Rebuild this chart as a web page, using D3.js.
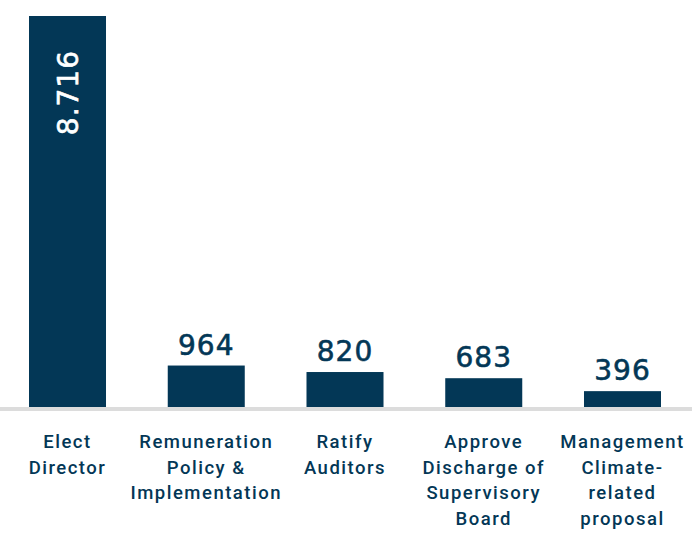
<!DOCTYPE html>
<html>
<head>
<meta charset="utf-8">
<script src="https://cdn.jsdelivr.net/npm/d3@7"></script>
<style>
  body { margin: 0; background: #fff; }
  svg { display: block; }
</style>
</head>
<body>
<div id="chart"></div>
<script>
// Chart values
const categories = [
    ["Elect", "Director"],
    ["Remuneration", "Policy &", "Implementation"],
    ["Ratify", "Auditors"],
    ["Approve", "Discharge of", "Supervisory", "Board"],
    ["Management", "Climate-", "related", "proposal"]
];
const values = [8716, 964, 820, 683, 396];
const valueLabels = ["8.716", "964", "820", "683", "396"];

const width = 692, height = 533;
const navy = "#033756";

const svg = d3.select("#chart")
    .append("svg")
    .attr("width", width)
    .attr("height", height);

// Scales
const x = d3.scaleBand()
    .domain(d3.range(values.length))
    .range([29, 661])
    .paddingInner(0.445)
    .paddingOuter(0);

const y = d3.scaleLinear()
    .domain([0, d3.max(values)])
    .range([409, 16]);

// Bars
svg.selectAll(".bar")
    .data(values)
    .join("rect")
    .attr("class", "bar")
    .attr("x", (d, i) => x(i))
    .attr("y", d => y(d))
    .attr("width", x.bandwidth())
    .attr("height", d => y(0) - y(d))
    .attr("fill", navy);

// Baseline
svg.append("rect")
    .attr("x", 0)
    .attr("y", y(0) - 2)
    .attr("width", width)
    .attr("height", 4)
    .attr("fill", "#dcdcdc");

// Value labels - first one sits inside the tall bar, rotated
svg.selectAll(".value")
    .data(values)
    .join("text")
    .attr("class", "value")
    .attr("font-family", "'DejaVu Sans', sans-serif")
    .attr("font-size", "28px")
    .attr("letter-spacing", "1px")
    .attr("stroke-width", 0.6)
    .each(function(d, i) {
        const t = d3.select(this);
        const cx = x(i) + x.bandwidth() / 2;
        if (i === 0) {
            t.attr("transform", `translate(${cx + 10},${y(d) + 34}) rotate(-90)`)
                .attr("text-anchor", "end")
                .attr("fill", "#fff")
                .attr("stroke", "#fff");
        } else {
            t.attr("x", cx)
                .attr("y", y(d) - 11)
                .attr("text-anchor", "middle")
                .attr("fill", navy)
                .attr("stroke", navy);
        }
    })
    .text((d, i) => valueLabels[i]);

// Category labels
const cat = svg.selectAll(".cat")
    .data(categories)
    .join("text")
    .attr("class", "cat")
    .attr("text-anchor", "middle")
    .attr("font-family", "Roboto, sans-serif")
    .attr("font-weight", 500)
    .attr("font-size", "18.5px")
    .attr("letter-spacing", "1.5px")
    .attr("fill", navy);

cat.selectAll("tspan")
    .data(d => d)
    .join("tspan")
    .attr("x", function() {
        const i = categories.indexOf(d3.select(this.parentNode).datum());
        return x(i) + x.bandwidth() / 2;
    })
    .attr("y", (d, j) => 448 + j * 25.5)
    .text(d => d);
</script>
</body>
</html>
